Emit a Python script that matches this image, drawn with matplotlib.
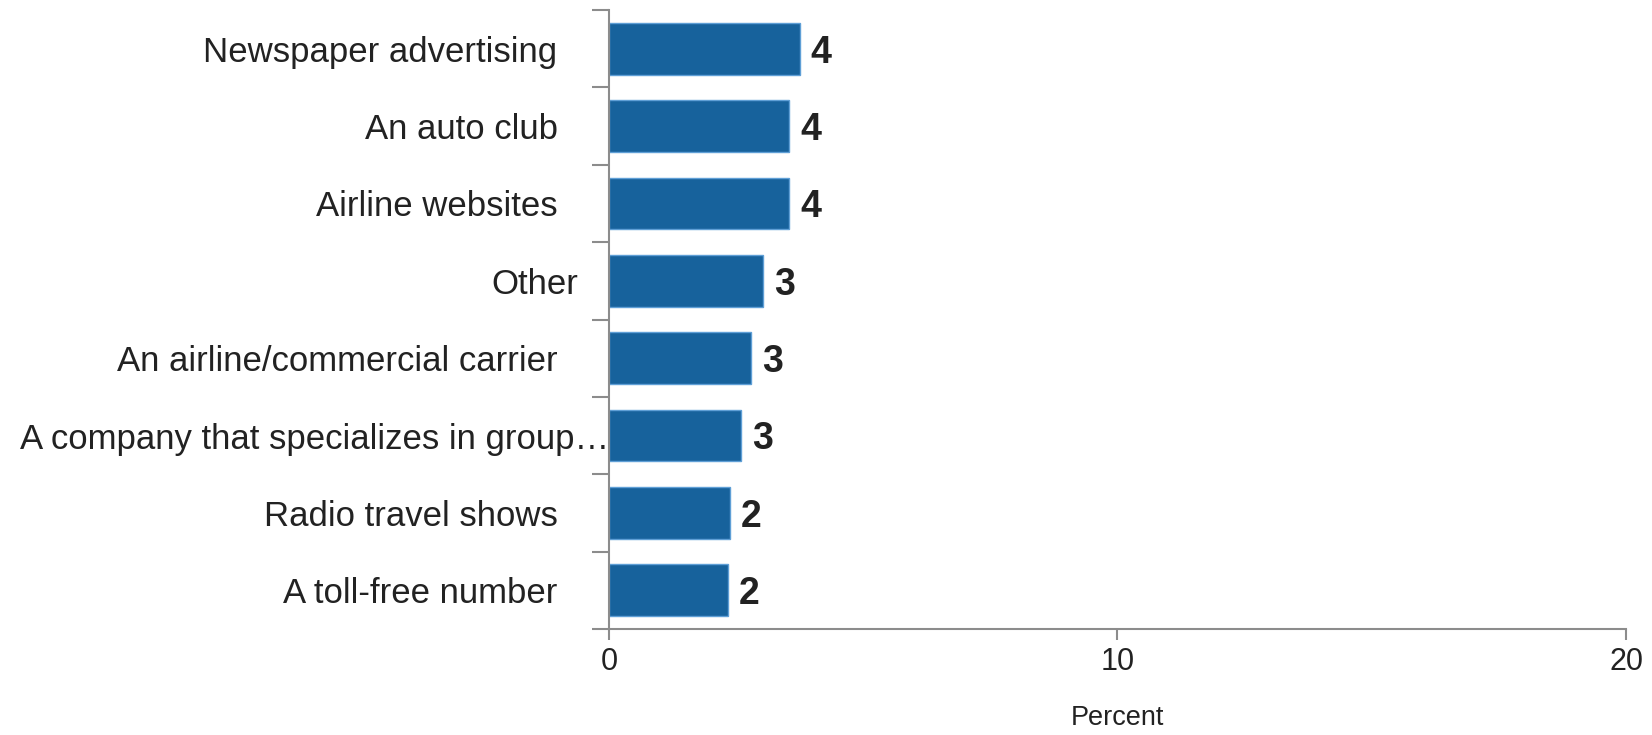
import numpy as np
import matplotlib.pyplot as plt
from matplotlib.ticker import FixedLocator

plt.rcParams['font.family'] = ['Liberation Sans', 'DejaVu Sans']

# Where respondents got their travel information (percent)
categories = [
    "Newspaper advertising",
    "An auto club",
    "Airline websites",
    "Other",
    "An airline/commercial carrier",
    "A company that specializes in group\u2026",
    "Radio travel shows",
    "A toll-free number",
]
percent = [3.75, 3.54, 3.54, 3.03, 2.80, 2.59, 2.38, 2.34]
x_ticks = [0, 10, 20]

# gap between each category label and the axis, in points
label_pads = [37, 37, 37, 22, 37, 0, 37, 37]

bar_color = "#17629c"
edge_color = "#5f9fd6"
spine_color = "#8c8c8c"
text_color = "#222222"

fig = plt.figure(figsize=(16.52, 7.35), dpi=100)
ax = fig.add_axes([0.3686, 0.1442, 0.6157, 0.8422])

y = np.arange(len(categories))
bars = ax.barh(y, percent, height=0.67, color=bar_color,
               edgecolor=edge_color, linewidth=1.0)

# value labels just past the end of each bar
for yi, v in zip(y, percent):
    ax.text(v + 0.22, yi + 0.05, f"{v:.0f}", va="center", ha="left",
            fontsize=27, fontweight="bold", color=text_color)

ax.set_ylim(len(categories) - 0.5, -0.5)
ax.set_xlim(0, 20)

# category labels on major ticks, tick marks on the boundaries between bars
ax.set_yticks(y)
ax.set_yticklabels(categories, fontsize=25, color=text_color)
ax.tick_params(axis="y", which="major", length=0)
ax.yaxis.set_minor_locator(FixedLocator(np.arange(-0.5, len(categories), 1.0)))
ax.tick_params(axis="y", which="minor", length=12, width=1.5,
               color=spine_color, direction="out")
for tick, pad in zip(ax.yaxis.get_major_ticks(), label_pads):
    tick.set_pad(pad)

ax.set_xticks(x_ticks)
ax.set_xticklabels([str(t) for t in x_ticks])
ax.tick_params(axis="x", length=8, width=1.5, color=spine_color,
               labelsize=22, labelcolor=text_color, pad=5)
ax.set_xlabel("Percent", fontsize=19.5, color=text_color, labelpad=20)

for side in ["top", "right"]:
    ax.spines[side].set_visible(False)
for side in ["left", "bottom"]:
    ax.spines[side].set_color(spine_color)
    ax.spines[side].set_linewidth(1.5)

fig.savefig("out.png", dpi=100)
